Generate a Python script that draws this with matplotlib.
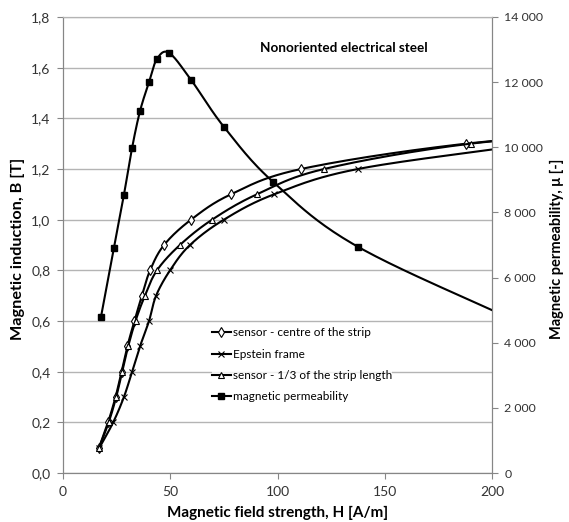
import numpy as np
import matplotlib.pyplot as plt
from matplotlib.lines import Line2D

plt.rcParams['font.family'] = ['Lato', 'DejaVu Sans']

# --- data ---
B_levels = [0.1, 0.2, 0.3, 0.4, 0.5, 0.6, 0.7, 0.8, 0.9, 1.0, 1.1, 1.2, 1.3]

H_centre = [16.8, 21.0, 24.5, 27.3, 30.0, 33.3, 36.8, 40.6, 47.1, 59.7, 78.3, 111.0, 188.0]
H_third = [16.8, 21.3, 24.8, 27.6, 30.4, 33.8, 38.2, 43.8, 54.5, 69.5, 90.4, 121.7, 190.0]
H_epstein = [17.0, 23.4, 28.4, 32.2, 35.9, 40.1, 43.4, 49.9, 59.2, 75.0, 98.4, 137.5, 220.0]

# extra points beyond the plotted range (lines run out of the frame)
H_centre_ext, B_centre_ext = 280.0, 1.36
H_third_ext, B_third_ext = 270.0, 1.35

H_mu = [17.7, 23.7, 28.4, 32.2, 35.9, 40.1, 43.8, 49.4, 59.7, 75.1, 97.9, 137.5, 220.0]
mu = [4790, 6910, 8540, 9980, 11110, 12000, 12710, 12900, 12070, 10620, 8940, 6945, 4400]

x_ticks = [0, 50, 100, 150, 200]
b_ticks = [0.0, 0.2, 0.4, 0.6, 0.8, 1.0, 1.2, 1.4, 1.6, 1.8]
mu_ticks = [0, 2000, 4000, 6000, 8000, 10000, 12000, 14000]

labels = ['sensor - centre of the strip', 'Epstein frame',
          'sensor - 1/3 of the strip length', 'magnetic permeability']


def smooth(x, y, xr, yr, n=24):
    # Catmull-Rom curve through the points (done in axis-normalised units)
    p = np.column_stack([np.asarray(x, float) / xr, np.asarray(y, float) / yr])
    p = np.vstack([2 * p[0] - p[1], p, 2 * p[-1] - p[-2]])
    out = []
    for i in range(1, len(p) - 2):
        p0, p1, p2, p3 = p[i - 1], p[i], p[i + 1], p[i + 2]
        t = np.linspace(0, 1, n, endpoint=False)[:, None]
        c = 0.5 * ((2 * p1) + (-p0 + p2) * t + (2 * p0 - 5 * p1 + 4 * p2 - p3) * t ** 2
                   + (-p0 + 3 * p1 - 3 * p2 + p3) * t ** 3)
        out.append(c)
    out.append(p[-2][None, :])
    out = np.vstack(out)
    return out[:, 0] * xr, out[:, 1] * yr


W, Hpx = 569, 522
fig = plt.figure(figsize=(W / 100, Hpx / 100), dpi=100)
ax = fig.add_axes([63 / W, 49 / Hpx, 429 / W, 456 / Hpx])
ax2 = ax.twinx()

grey = '#868686'
lw = 1.5

# B(H) curves
sx, sy = smooth(H_centre + [H_centre_ext], B_levels + [B_centre_ext], 200, 1.8)
ax.plot(sx, sy, color='black', lw=lw)
ax.plot(H_centre, B_levels, ls='none', marker='d', ms=5, mfc='white', mec='black', mew=0.8)

sx, sy = smooth(H_epstein, B_levels, 200, 1.8)
ax.plot(sx, sy, color='black', lw=lw)
ax.plot(H_epstein, B_levels, ls='none', marker='x', ms=5, mec='black', mew=0.8)

sx, sy = smooth(H_third + [H_third_ext], B_levels + [B_third_ext], 200, 1.8)
ax.plot(sx, sy, color='black', lw=lw)
ax.plot(H_third, B_levels, ls='none', marker='^', ms=5, mfc='white', mec='black', mew=0.8)

# permeability
sx, sy = smooth(H_mu, mu, 200, 14000)
ax2.plot(sx, sy, color='black', lw=lw)
ax2.plot(H_mu[:-1], mu[:-1], ls='none', marker='s', ms=5, mfc='black', mec='black')

ax.set_xlim(0, 200)
ax.set_ylim(0, 1.8)
ax2.set_ylim(0, 14000)

ax.set_xticks(x_ticks)
ax.set_yticks(b_ticks)
ax.set_yticklabels([f'{v:.1f}'.replace('.', ',') for v in b_ticks])
ax2.set_yticks(mu_ticks)
ax2.set_yticklabels([f'{v:,}'.replace(',', ' ') for v in mu_ticks])

ax.yaxis.grid(True, color='#b4b4b4', lw=1)
ax.set_axisbelow(True)

for a in (ax, ax2):
    for s in a.spines.values():
        s.set_color(grey)
    a.spines['top'].set_color('#b4b4b4')
    a.tick_params(colors=grey, labelcolor='#333333', labelsize=10, length=4, direction='out')
ax.tick_params(axis='y', pad=5)
ax2.tick_params(axis='y', pad=5)
ax.tick_params(axis='x', pad=5)

# axis titles placed at their pixel centres
xlab = fig.text(277.5 / W, 1 - 513 / Hpx, 'Magnetic field strength, H [A/m]',
                fontsize=10, fontweight='bold', ha='center', va='center')
ylab = fig.text(18 / W, 1 - 248.5 / Hpx, 'Magnetic induction, B [T]', rotation=90,
                fontsize=10, fontweight='bold', ha='center', va='center')
ylab2 = fig.text(557 / W, 1 - 249 / Hpx, 'Magnetic permeability, \u03bc [-]', rotation=90,
                 fontsize=10, fontweight='bold', ha='center', va='center')

title = ax.text((428 - 63) / 429, (473 - 48) / 456, 'Nonoriented electrical steel',
                transform=ax.transAxes, fontsize=8, fontweight='bold', ha='right', va='center')

handles = [
    Line2D([], [], color='black', lw=lw, marker='d', ms=5, mfc='white', mew=0.8),
    Line2D([], [], color='black', lw=lw, marker='x', ms=5, mew=0.8),
    Line2D([], [], color='black', lw=lw, marker='^', ms=5, mfc='white', mew=0.8),
    Line2D([], [], color='black', lw=lw, marker='s', ms=5),
]


def make_legend(fs, spacing, top):
    lg = ax2.legend(handles, labels, loc='upper left', bbox_to_anchor=(212 / W, 1 - top / Hpx),
                    bbox_transform=fig.transFigure, frameon=True, fancybox=False, borderpad=0,
                    borderaxespad=0, handlelength=1.6, handletextpad=0.2, labelspacing=spacing,
                    fontsize=fs)
    lg.get_frame().set_facecolor('white')
    lg.get_frame().set_edgecolor('none')
    return lg


leg = make_legend(8.6, 0.7, 325)

# --- size the texts to the widths measured on the reference ---
fig.canvas.draw()
r = fig.canvas.get_renderer()


def fit(t, target, vertical=False):
    for _ in range(3):
        bb = t.get_window_extent(r)
        w = bb.height if vertical else bb.width
        t.set_fontsize(t.get_fontsize() * target / w)


fit(xlab, 221)
fit(ylab, 183, vertical=True)
fit(ylab2, 182, vertical=True)

# title: "iented electrical steel" spans 128 px on the reference
probe = fig.text(0, 0, 'iented electrical steel', fontsize=8, fontweight='bold')
fit(probe, 128)
title.set_fontsize(probe.get_fontsize())
probe.remove()

# tick labels: "150" is ~24 px wide, "14 000" ~39 px wide
tx = ax.get_xticklabels()[3]
sc = 24.3 / tx.get_window_extent(r).width
ax.tick_params(labelsize=10 * sc)
tr = ax2.get_yticklabels()[-1]
sc2 = 39 / tr.get_window_extent(r).width
ax2.tick_params(labelsize=10 * sc2)

# legend: text width 138 px, row pitch ~21.3 px, first row centred at y=333
fs = 8.6
for _ in range(3):
    fig.canvas.draw()
    fs *= 138 / leg.get_texts()[0].get_window_extent(r).width
    leg.remove()
    leg = make_legend(fs, 0.7, 325)
fig.canvas.draw()
sp = 0.7
top = 325
for _ in range(3):
    ys = [t.get_window_extent(r) for t in leg.get_texts()]
    pitch = (ys[0].y0 - ys[-1].y0) / 3
    sp += (21.3 - pitch) / (fs * 100 / 72)
    c0 = Hpx - (ys[0].y0 + ys[0].y1) / 2
    top += 333 - c0
    leg.remove()
    leg = make_legend(fs, sp, top)
    fig.canvas.draw()

fig.savefig('out.png', dpi=100)
